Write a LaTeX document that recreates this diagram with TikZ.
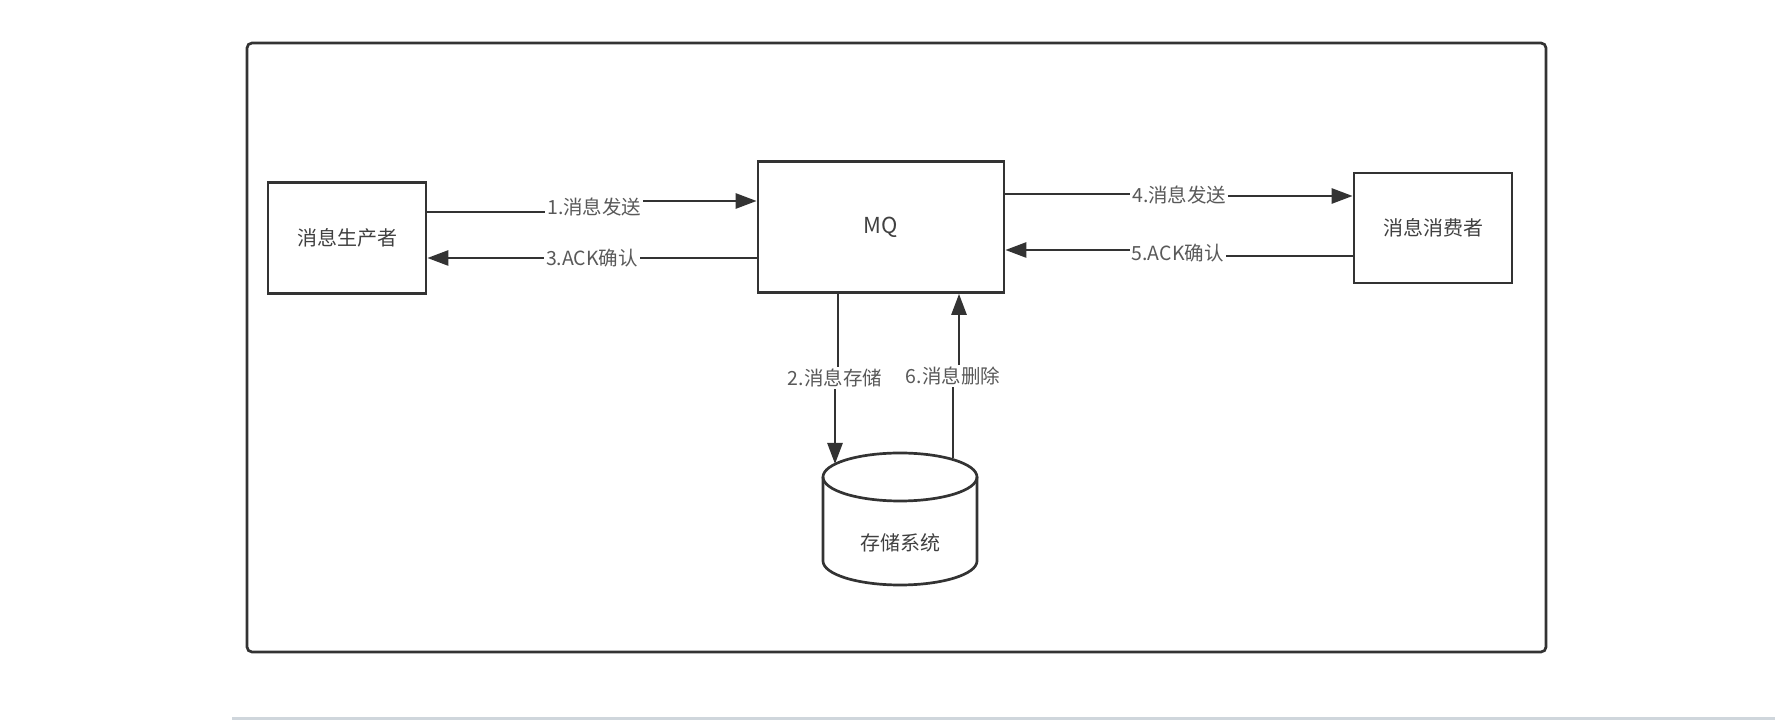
\documentclass[tikz,border=0pt]{standalone}
\usepackage{fontspec}
\newfontfamily\cjk{Noto Sans CJK SC}
\usepackage{tikz}
\usetikzlibrary{arrows.meta, calc}

\begin{document}
\begin{tikzpicture}[x=1pt, y=1pt,
    box/.style={draw=black!80, line width=2.7pt, minimum width=158pt, minimum height=111pt, text=black!75, font=\cjk\fontsize{20}{20}\selectfont},
    lbl/.style={fill=white, inner sep=2pt, text=black!65, font=\cjk\fontsize{19.5}{19.5}\selectfont},
    flow/.style={line width=2.7pt, draw=black!80, -{Triangle[length=21pt, width=15pt]}}]
            \useasboundingbox (0,0) rectangle (1775,720);
            \draw[line width=2.7pt, black!80, rounded corners=5pt] (247,677) rectangle (1546,68);
            \draw[line width=2.5pt, color={rgb,255:red,207;green,214;blue,220}] (232,1.5) -- (1775,1.5);
            \node[box] (prod) at (347,482) {消息生产者};
            \node[box, minimum width=246pt, minimum height=131pt, font=\cjk\fontsize{22}{22}\selectfont] (mq) at (881,493) {MQ};
            \node[box, minimum height=110pt] (cons) at (1433,492) {消息消费者};
            % storage
            \coordinate (dbtop) at (900,243);
            \draw[line width=2.7pt, black!80] ($(dbtop)+(-77,0)$) -- ++(0,-84) arc[start angle=180, end angle=360, x radius=77, y radius=24] -- ++(0,84);
            \draw[line width=2.7pt, black!80] (dbtop) ellipse[x radius=77, y radius=24];
            \node[box, draw=none, minimum width=0pt, minimum height=0pt] (store) at (900,177) {存储系统};
            \coordinate (dbin) at ($(dbtop)+(-65,13)$);
            \coordinate (dbout) at ($(dbtop)+(53,19)$);
            \draw[flow] ([yshift=26]prod.east) -- ++(167,0) node[lbl, yshift=5] (l1) {1.消息发送} |- ([yshift=26]mq.west);
            \draw[flow] ([yshift=-31]mq.west) -- ([yshift=-20]prod.east) node[lbl, midway] (l3) {3.ACK确认};
            \draw[flow] ([yshift=33]mq.east) -- ++(174,0) node[lbl, yshift=-1] (l4) {4.消息发送} |- ([yshift=32]cons.west);
            \draw[flow] ([yshift=-28]cons.west) -- ++(-175,0) node[lbl, yshift=3] (l5) {5.ACK确认} |- ([yshift=-23]mq.east);
            \draw[flow] ([xshift=-43]mq.south) -- ++(0,-84) node[lbl, xshift=-3] (l2) {2.消息存储} -| (dbin);
            \draw[flow] (dbout) -- ++(0,82) node[lbl] (l6) {6.消息删除} -| ([xshift=78]mq.south);
        \end{tikzpicture}
\end{document}
